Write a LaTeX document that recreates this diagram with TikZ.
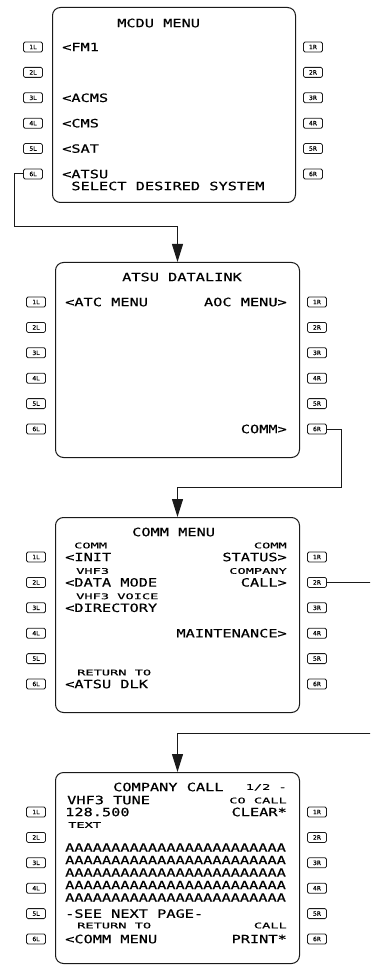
\documentclass[tikz,border=0pt]{standalone}
\usepackage{fontspec}
\usepackage{tikz}
\usetikzlibrary{arrows.meta,calc}
\newfontfamily\mcdubig[FakeStretch=1.34,FakeBold=0.5]{DejaVu Sans Mono}
\newfontfamily\mcdusmall[FakeStretch=1.75,FakeBold=0.4]{DejaVu Sans Mono}
\newfontfamily\keyfont[FakeBold=0.4]{DejaVu Sans}
\definecolor{ink}{HTML}{1A1A1A}

\begin{document}
\begin{tikzpicture}[x=1pt,y=-1pt,
    screen/.style={draw=ink,line width=1pt,rounded corners=8pt,
        anchor=north west,inner sep=0pt,minimum width=244pt},
    lsk/.style={draw=ink,line width=0.8pt,rounded corners=1.5pt,
        minimum width=19pt,minimum height=10pt,inner sep=0pt,
        font=\keyfont\fontsize{6}{6}\selectfont},
    big/.style={inner sep=0pt,text height=8.3pt,text depth=0pt,
        font=\mcdubig\fontsize{11.4}{12}\selectfont},
    small/.style={inner sep=0pt,text height=5.7pt,text depth=0pt,
        font=\mcdusmall\fontsize{7.8}{8}\selectfont},
    link/.style={draw=ink,line width=1pt,-{Triangle[length=18pt,width=11pt]}}]

    \useasboundingbox (0,0) rectangle (370,965);
    \clip (0,0) rectangle (370,965);

    \node[screen,minimum width=243pt,minimum height=195pt] (s1) at (52,7) {};
    \node[screen,minimum height=195pt] (s2) at (55,262) {};
    \node[screen,minimum height=195pt] (s3) at (55,517) {};
    \node[screen,minimum height=191pt] (s4) at (55,772) {};

    \foreach \s in {s1,s2,s3,s4}
      \foreach \k in {1,...,6} {
        \node[lsk] (\s l\k) at ($(\s.north west)+(-19,{40+25.4*(\k-1)})$) {\k L};
        \node[lsk] (\s r\k) at ($(\s.north east)+(17,{40+25.4*(\k-1)})$) {\k R};
      }

    % MCDU MENU
    \node[big,anchor=west] (m0) at (117,23) {MCDU MENU};
    \node[big,anchor=west] (m1) at (62,47) {<FM1};
    \node[big,anchor=west] (m3) at (62,97.8) {<ACMS};
    \node[big,anchor=west] (m4) at (62,123.2) {<CMS};
    \node[big,anchor=west] (m5) at (62,148.6) {<SAT};
    \node[big,anchor=west] (m6) at (62,174) {<ATSU};
    \node[big,anchor=west] (m7) at (71.2,186) {SELECT DESIRED SYSTEM};

    % ATSU DATALINK
    \node[big,anchor=west] (a0) at (122,277) {ATSU DATALINK};
    \node[big,anchor=west] (a1) at (65,302) {<ATC MENU};
    \node[big,anchor=east] (a1r) at (287,302) {AOC MENU>};
    \node[big,anchor=east] (a6r) at (287,429) {COMM>};

    % COMM MENU
    \node[big,anchor=west] (c0) at (132,532) {COMM MENU};
    \node[small,anchor=west] (c1s) at (74,545.5) {COMM};
    \node[big,anchor=west] (c1) at (65,557) {<INIT};
    \node[small,anchor=east] (c1rs) at (287,545.5) {COMM};
    \node[big,anchor=east] (c1r) at (287,557) {STATUS>};
    \node[small,anchor=west] (c2s) at (76,571) {VHF3};
    \node[big,anchor=west] (c2) at (65,582.4) {<DATA MODE};
    \node[small,anchor=east] (c2rs) at (287,571) {COMPANY};
    \node[big,anchor=east] (c2r) at (287,582.4) {CALL>};
    \node[small,anchor=west] (c3s) at (76,596.3) {VHF3 VOICE};
    \node[big,anchor=west] (c3) at (65,607.8) {<DIRECTORY};
    \node[big,anchor=east] (c4r) at (287,633.2) {MAINTENANCE>};
    \node[small,anchor=west] (c6s) at (77,672.5) {RETURN TO};
    \node[big,anchor=west] (c6) at (65,684) {<ATSU DLK};

    % COMPANY CALL
    \node[big,anchor=west] (p0) at (113,787) {COMPANY CALL};
    \node[small,anchor=east] (p0r) at (287,787) {1/2 -};
    \node[big,anchor=west] (p1s) at (67,800) {VHF3 TUNE};
    \node[small,anchor=east] (p1rs) at (287,800.5) {CO CALL};
    \node[big,anchor=west] (p1) at (65,812) {128.500};
    \node[big,anchor=east] (p1r) at (287,812) {CLEAR*};
    \node[small,anchor=west] (p2s) at (68,825) {TEXT};
    \foreach \i in {0,...,4}
      \node[big,anchor=west] (pa\i) at (65,{847.5+12.5*\i})
          {AAAAAAAAAAAAAAAAAAAAAAAA};
    \node[big,anchor=west] (p5) at (65,913.6) {-SEE NEXT PAGE-};
    \node[small,anchor=west] (p6s) at (77,925.5) {RETURN TO};
    \node[small,anchor=east] (p6rs) at (287,925.5) {CALL};
    \node[big,anchor=west] (p6) at (65,939) {<COMM MENU};
    \node[big,anchor=east] (p6r) at (287,939) {PRINT*};

    \coordinate (bend1) at (14,227);
    \coordinate (bend2) at (341,487);
    \coordinate (bend3) at (380,733);

    \draw[link] (s1l6.west) -| (bend1) -| (s2.north);
    \draw[link] (s2r6.east) -| (bend2) -| (s3.north);
    \draw[link] (s3r2.east) -| (bend3) -| (s4.north);

\end{tikzpicture}
\end{document}
